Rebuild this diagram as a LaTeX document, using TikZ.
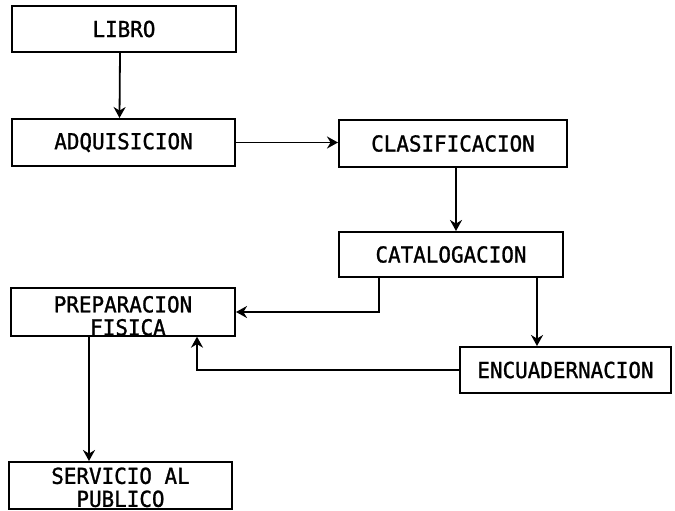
\documentclass[tikz,border=0pt]{standalone}
\usepackage{fontspec}
\newfontfamily\tw{DejaVu Sans Mono}[FakeBold=1.2,FakeStretch=0.95]
\usetikzlibrary{arrows.meta}
\begin{document}
\begin{tikzpicture}[x=1pt,y=-1pt,
  box/.style={draw,line width=2pt,inner sep=0pt,font=\tw\fontsize{22}{24}\selectfont,align=center},
  arr/.style={line width=1.8pt,-{Stealth[length=11pt,width=12pt]}}]
\useasboundingbox[fill=white] (0,0) rectangle (675,511);
\node[box,minimum width=224pt,minimum height=46pt] (libro) at (124,29) {LIBRO};
\node[box,minimum width=223pt,minimum height=47pt] (adq) at (123.5,142.5) {ADQUISICION};
\node[box,minimum width=228pt,minimum height=47pt] (clas) at (453,143.5) {CLASIFICACION};
\node[box,minimum width=224pt,minimum height=45pt] (cat) at (451,254.5) {CATALOGACION};
\node[box,minimum width=224pt,minimum height=46pt] (prep) at (123,312) {\rule{0pt}{24pt}PREPARACION\\[-1pt]\hspace*{10pt}FISICA};
\node[box,minimum width=211pt,minimum height=46pt] (enc) at (565.5,370) {ENCUADERNACION};
\node[box,minimum width=223pt,minimum height=47pt] (serv) at (120.5,485.5) {\rule{0pt}{20pt}SERVICIO AL\\[-1pt]PUBLICO};
\draw[arr] ([xshift=-4pt]libro.south) -- ([xshift=-4pt]adq.north);
\draw[arr] (adq.east) -- (adq.east -| clas.west);
\draw[arr] ([xshift=3pt]clas.south) -- ([xshift=3pt]clas.south |- cat.north);
\draw[arr] ([xshift=-72pt]cat.south) |- (prep.east);
\draw[arr] ([xshift=86pt]cat.south) -- ([xshift=86pt]cat.south |- enc.north);
\draw[arr] (enc.west) -| ([xshift=74pt]prep.south);
\draw[arr] ([xshift=-34pt]prep.south) -- ([xshift=-34pt]prep.south |- serv.north);
\end{tikzpicture}
\end{document}
